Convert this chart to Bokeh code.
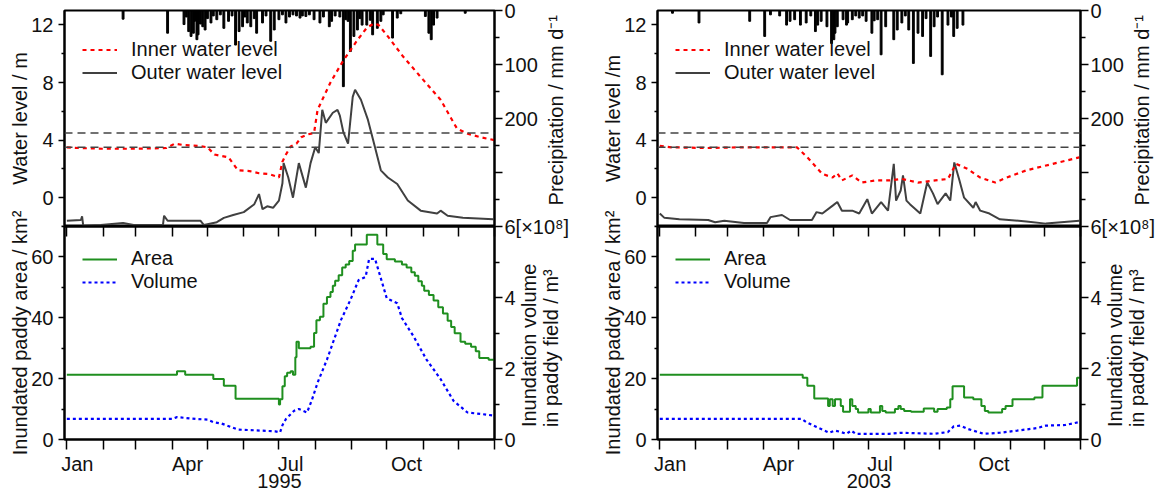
import math
from bokeh.plotting import figure
from bokeh.models import Range1d, LinearAxis, FixedTicker, Span, Legend, LegendItem
from bokeh.layouts import row, column
from bokeh.embed import file_html
from bokeh.resources import INLINE

# ---------------- data ----------------
month_starts = [0, 31, 59, 90, 120, 151, 181, 212, 243, 273, 304, 334, 365]
month_label_days = [9, 103, 191, 290]
month_labels = ["Jan", "Apr", "Jul", "Oct"]
thresholds = [3.5, 4.5]

level_ticks = [0, 4, 8, 12]
level_minor = [-2, 2, 6, 10]
prec_ticks = [0, 100, 200, 300]
prec_minor = [50, 150, 250, 350]
area_ticks = [0, 20, 40, 60]
area_minor = [10, 30, 50, 70]
vol_ticks = [0, 2, 4, 6]
vol_minor = [1, 3, 5]

# 1995
inner95_day = [0, 10, 30, 60, 85, 92, 100, 112, 120, 126, 138, 146, 156, 164, 172, 178, 181, 184, 187, 191,
               196, 200, 206, 211, 214, 218, 225, 235, 248, 256, 262, 266, 274, 287, 304, 319, 333, 342, 353, 365]
inner95 = [3.5, 3.45, 3.4, 3.4, 3.45, 3.75, 3.65, 3.6, 3.5, 3.0, 2.8, 1.9, 1.85, 1.7, 1.65, 1.5, 1.4, 2.5, 3.0, 3.55,
           3.75, 4.2, 4.4, 4.5, 6.1, 6.8, 8.0, 9.4, 10.95, 11.8, 12.1, 12.0, 11.2, 9.8, 8.2, 6.8, 4.8, 4.45, 4.2, 4.0]
outer95_day = [0, 12, 13, 14, 29, 48, 57, 82, 83, 86, 114, 117, 128, 134, 142, 151, 160, 164, 167, 171,
               176, 181, 184, 185, 189, 193, 198, 204, 208, 212, 215, 218, 221, 227, 231, 233, 236, 240, 244, 246,
               251, 257, 263, 268, 274, 282, 291, 302, 316, 319, 325, 338, 364]
outer95 = [-1.6, -1.55, -1.3, -1.95, -1.9, -1.75, -1.9, -1.9, -1.25, -1.6, -1.6, -1.9, -1.7, -1.4, -1.2, -1.0, -0.45, 0.25, -0.8, -0.6,
           -0.7, -0.2, 1.0, 2.4, 1.4, 0.0, 2.4, 0.7, 2.4, 3.5, 3.1, 6.1, 5.2, 5.9, 6.1, 5.7, 4.55, 3.75, 7.0, 7.5,
           6.8, 5.4, 3.5, 1.9, 1.4, 0.95, -0.2, -0.9, -1.1, -0.9, -1.25, -1.4, -1.5]
prec95_day = [48, 86, 100, 102, 104, 106, 108, 109, 111, 112, 114, 116, 118, 120, 123, 125, 128, 131, 134, 138,
              141, 144, 147, 150, 152, 154, 157, 160, 162, 167, 170, 174, 177, 181, 184, 187, 190, 193, 196, 199,
              201, 204, 207, 211, 216, 219, 224, 226, 229, 233, 236, 238, 240, 242, 245, 248, 250, 252, 256, 259,
              261, 265, 268, 270, 278, 282, 285, 306, 309, 311, 313, 316, 340]
prec95 = [16, 42, 26, 12, 39, 48, 42, 20, 54, 45, 25, 30, 36, 15, 23, 10, 17, 8, 33, 20,
          10, 64, 39, 30, 12, 23, 30, 15, 42, 23, 10, 57, 36, 17, 8, 23, 12, 8, 10, 14,
          10, 11, 8, 17, 23, 12, 30, 20, 10, 12, 141, 17, 20, 76, 48, 36, 15, 27, 27, 18,
          45, 33, 20, 8, 51, 14, 6, 11, 42, 54, 27, 14, 5]
area95_day = [0, 94, 101, 125, 134, 144, 181, 182, 184, 186, 188, 191, 193, 195, 196, 198, 208, 211, 213, 216,
              219, 222, 225, 227, 229, 232, 235, 238, 241, 244, 246, 256, 265, 270, 273, 280, 286, 290, 294, 297,
              300, 303, 305, 309, 313, 317, 321, 325, 328, 331, 336, 340, 345, 349, 352, 360, 365]
area95 = [21.3, 22.4, 21.3, 19.9, 17.7, 13.4, 11.5, 13.2, 17.5, 20.8, 21.9, 22.4, 21.3, 27.0, 32.1, 30.0, 30.5, 35.0, 39.2, 40.3,
          44.6, 46.8, 48.5, 50.5, 52.2, 54.0, 56.5, 57.5, 58.7, 62.0, 64.1, 67.3, 64.1, 61.0, 59.2, 58.5, 57.5, 56.5, 55.0, 53.8,
          52.0, 50.5, 48.9, 47.5, 45.7, 43.5, 41.4, 39.0, 37.0, 34.9, 32.1, 31.5, 30.5, 29.0, 26.8, 26.2, 26.2]
vol95_day = [0, 90, 94, 110, 120, 125, 132, 137, 146, 160, 178, 182, 184, 187, 194, 198, 205, 209, 214, 222,
             234, 242, 249, 255, 258, 263, 268, 273, 282, 286, 296, 307, 319, 330, 342, 353, 365]
vol95 = [0.58, 0.58, 0.63, 0.58, 0.56, 0.49, 0.45, 0.39, 0.28, 0.26, 0.23, 0.2, 0.4, 0.58, 0.81, 0.86, 0.76, 1.1, 1.6, 2.25,
         3.37, 3.93, 4.49, 4.58, 5.09, 5.09, 4.54, 3.98, 3.84, 3.42, 2.9, 2.25, 1.7, 1.09, 0.76, 0.72, 0.67]

# 2003
inner03_day = [0, 10, 40, 70, 100, 119, 128, 136, 141, 150, 154, 158, 167, 175, 187, 199, 210, 224, 239, 250,
               257, 267, 278, 291, 301, 318, 341, 364]
inner03 = [3.6, 3.5, 3.45, 3.5, 3.5, 3.5, 2.8, 2.1, 1.65, 1.4, 1.7, 1.2, 1.55, 1.05, 1.2, 1.2, 1.3, 1.05, 1.2, 1.3,
           2.35, 2.0, 1.4, 1.05, 1.4, 1.9, 2.35, 2.8]
outer03_day = [0, 4, 17, 42, 48, 56, 73, 93, 96, 106, 113, 132, 136, 141, 150, 154, 158, 167, 173, 180,
               184, 192, 198, 203, 205, 209, 211, 214, 217, 226, 232, 237, 241, 248, 252, 255.5, 260, 264, 272, 274,
               278, 286, 295, 318, 335, 364]
outer03 = [-1.1, -1.4, -1.5, -1.55, -1.7, -1.6, -1.75, -1.75, -1.35, -1.2, -1.55, -1.55, -1.0, -1.1, -0.55, -0.3, -0.9, -0.9, -1.1, -0.1,
           -1.1, -0.3, -0.9, 2.35, -0.2, 0.5, 1.55, -0.2, -0.45, -1.1, 1.05, 0.3, -0.45, 0.3, -0.2, 2.45, 1.2, 0.0, -0.7, -0.3,
           -0.9, -1.1, -1.5, -1.65, -1.8, -1.6]
prec03_day = [11, 34, 78, 91, 96, 104, 110, 113, 117, 122, 127, 131, 135, 137, 140, 145, 149, 151, 152, 154,
              159, 162, 163, 167, 170, 173, 176, 179, 184, 186, 189, 192, 196, 203, 206, 210, 213, 216, 220, 224,
              228, 231, 235, 238, 241, 245, 250, 253, 255, 258, 263]
prec03 = [5, 23, 20, 48, 8, 10, 27, 20, 17, 27, 23, 10, 39, 27, 20, 30, 61, 54, 42, 30,
          17, 27, 23, 17, 10, 14, 10, 20, 42, 19, 17, 82, 30, 54, 36, 23, 10, 36, 98, 42,
          48, 15, 85, 30, 12, 119, 27, 12, 48, 33, 27]
area03_day = [0, 124, 128, 134, 146, 147.5, 150, 152, 157, 159, 165, 167, 170, 172, 181, 183, 191, 193, 196, 204,
              207, 209, 212, 218, 229, 238, 241, 249, 252, 254, 264, 272, 279, 282, 285, 297, 300, 306, 325, 332,
              362, 365]
area03 = [21.3, 20.3, 17.7, 13.5, 11.0, 13.2, 11.0, 13.2, 11.0, 9.1, 13.2, 11.0, 10.0, 8.9, 10.0, 8.9, 11.0, 9.4, 8.9, 10.0,
          11.0, 10.0, 9.4, 9.1, 10.2, 9.1, 10.0, 10.5, 13.2, 17.5, 13.8, 13.2, 11.0, 9.4, 8.9, 10.0, 11.0, 13.2, 13.8, 17.7,
          20.3, 20.3]
vol03_day = [0, 123, 127, 136, 145, 147, 152, 156, 162, 166, 170, 199, 210, 238, 250, 255, 261, 267, 281, 295,
             310, 327, 335, 352, 364]
vol03 = [0.58, 0.58, 0.49, 0.35, 0.22, 0.19, 0.25, 0.22, 0.16, 0.25, 0.16, 0.16, 0.19, 0.16, 0.21, 0.37, 0.39, 0.30, 0.16, 0.19,
         0.25, 0.32, 0.39, 0.41, 0.49]

# ---------------- styling ----------------
FONT = "Liberation Sans"
FS = "20px"
TXT = "#111111"
RED = "#ff0000"
GREY = "#404040"
GREEN = "#1f8f1f"
BLUE = "#0000ff"
PREC_TITLE = "Precipitation / mm d\u207b\u00b9"
VOL_TITLE = "Inundation volume\nin paddy field / m\u00b3"
PREC_TITLE_START = 361.0   # where the rotated title text begins (precipitation units)
VOL_TITLE_START = 0.35     # where the rotated title text begins (volume units)


def style_axis(ax):
    ax.axis_line_color = "black"
    ax.axis_line_width = 2
    ax.major_tick_line_color = "black"
    ax.major_tick_line_width = 1.5
    ax.minor_tick_line_color = "black"
    ax.minor_tick_line_width = 1.5
    ax.major_label_text_font = FONT
    ax.major_label_text_font_size = FS
    ax.major_label_text_color = TXT
    ax.axis_label_text_font = FONT
    ax.axis_label_text_font_size = FS
    ax.axis_label_text_color = TXT
    ax.axis_label_text_font_style = "normal"


def style_left(ax, ticks, minor, label):
    style_axis(ax)
    ax.ticker = FixedTicker(ticks=ticks, minor_ticks=minor)
    ax.major_tick_in = 0
    ax.minor_tick_in = 0
    ax.major_tick_out = 6
    ax.minor_tick_out = 3
    ax.major_label_standoff = 5
    ax.axis_label = label
    ax.axis_label_standoff = -3


def style_right(ax):
    style_axis(ax)
    ax.major_tick_in = 0
    ax.minor_tick_in = 0
    ax.major_tick_out = 8
    ax.minor_tick_out = 5
    ax.major_label_standoff = 2


def title_axis(range_name, start, text, standoff):
    # a bare right-hand axis whose single rotated label serves as the axis title (reads bottom-to-top)
    ax = LinearAxis(y_range_name=range_name, ticker=FixedTicker(ticks=[start], minor_ticks=[]),
                    major_label_overrides={start: text}, major_label_orientation=math.pi / 2)
    style_axis(ax)
    ax.axis_line_color = None
    ax.major_tick_line_color = None
    ax.minor_tick_line_color = None
    ax.major_tick_out = 0
    ax.major_tick_in = 0
    ax.minor_tick_out = 0
    ax.minor_tick_in = 0
    ax.major_label_standoff = standoff
    ax.major_label_text_line_height = 1.0
    return ax


def make_legend(items, loc, h):
    return Legend(items=items, location=loc, orientation="vertical", padding=0, margin=0, spacing=0,
                  glyph_width=35, glyph_height=h, label_height=h, label_standoff=14,
                  label_text_font=FONT, label_text_font_size=FS, label_text_color=TXT,
                  border_line_alpha=0, background_fill_alpha=0)


def make_column(W, LB, RB, year, ylab, inner_d, inner_v, outer_d, outer_v, p_d, p_v, a_d, a_v, v_d, v_v):
    xr = Range1d(-2, 365)
    # ---- top panel ----
    t = figure(width=W, height=226, x_range=xr, y_range=Range1d(-2, 13),
               x_axis_location=None, y_axis_location="left",
               output_backend="svg", toolbar_location=None,
               min_border_left=LB, min_border_right=RB, min_border_top=10, min_border_bottom=0)
    t.grid.visible = False
    t.outline_line_color = "black"
    t.outline_line_width = 2
    t.border_fill_color = None
    style_left(t.yaxis[0], level_ticks, level_minor, ylab)
    t.extra_y_ranges = {"prec": Range1d(400, 0)}
    pa = LinearAxis(y_range_name="prec", ticker=FixedTicker(ticks=prec_ticks, minor_ticks=prec_minor),
                    major_label_overrides={300: ""})
    style_right(pa)
    t.add_layout(pa, "right")
    t.add_layout(title_axis("prec", PREC_TITLE_START, PREC_TITLE, 16), "right")
    t.vbar(x=p_d, top=p_v, bottom=0, width=1.6, color="black", y_range_name="prec")
    for th in thresholds:
        t.add_layout(Span(location=th, dimension="width", line_color="#444444",
                          line_dash="8 5", line_width=1.5))
    r_out = t.line(outer_d, outer_v, line_color=GREY, line_width=2)
    r_in = t.line(inner_d, inner_v, line_color=RED, line_dash="4 4", line_width=2.2)
    t.add_layout(make_legend([LegendItem(label="Inner water level", renderers=[r_in]),
                              LegendItem(label="Outer water level", renderers=[r_out])], (18, 142), 21))

    # ---- bottom panel ----
    b = figure(width=W, height=289, x_range=xr, y_range=Range1d(0, 70),
               output_backend="svg", toolbar_location=None,
               min_border_left=LB, min_border_right=RB, min_border_top=25, min_border_bottom=49)
    b.margin = (-25, 0, 0, 0)
    b.border_fill_color = None
    b.grid.visible = False
    b.outline_line_color = "black"
    b.outline_line_width = 2
    style_left(b.yaxis[0], area_ticks, area_minor, "Inundated paddy area / km\u00b2")
    xa = b.xaxis[0]
    style_axis(xa)
    xa.ticker = FixedTicker(ticks=month_label_days, minor_ticks=month_starts)
    xa.major_label_overrides = dict(zip(month_label_days, month_labels))
    xa.major_tick_out = 0
    xa.major_tick_in = 0
    xa.minor_tick_out = 10
    xa.minor_tick_in = 0
    xa.major_label_standoff = 3
    xa.axis_label = year
    xa.axis_label_standoff = -4
    ta = LinearAxis(ticker=FixedTicker(ticks=month_starts, minor_ticks=[]),
                    major_label_overrides={m: "" for m in month_starts})
    style_axis(ta)
    ta.major_tick_in = 10
    ta.major_tick_out = 0
    ta.minor_tick_in = 0
    ta.minor_tick_out = 0
    ta.major_label_text_font_size = "1px"
    ta.major_label_standoff = 0
    b.add_layout(ta, "above")
    b.extra_y_ranges = {"vol": Range1d(0, 6)}
    va = LinearAxis(y_range_name="vol", ticker=FixedTicker(ticks=vol_ticks, minor_ticks=vol_minor),
                    major_label_overrides={6: "6[\u00d710\u2078]"})
    style_right(va)
    b.add_layout(va, "right")
    b.add_layout(title_axis("vol", VOL_TITLE_START, VOL_TITLE, -32), "right")
    r_a = b.step(a_d, a_v, mode="after", line_color=GREEN, line_width=2)
    r_v = b.line(v_d, v_v, y_range_name="vol", line_color=BLUE, line_dash="3 3", line_width=2.2)
    b.add_layout(make_legend([LegendItem(label="Area", renderers=[r_a]),
                              LegendItem(label="Volume", renderers=[r_v])], (18, 146), 22))
    return column(t, b)


c1 = make_column(599, 64, 105, "1995", "Water level / m", inner95_day, inner95, outer95_day, outer95,
                 prec95_day, prec95, area95_day, area95, vol95_day, vol95)
c2 = make_column(574, 56, 88, "2003", "Water level /m", inner03_day, inner03, outer03_day, outer03,
                 prec03_day, prec03, area03_day, area03, vol03_day, vol03)
p = row(c1, c2)

open("out.html", "w").write(file_html(p, INLINE))
